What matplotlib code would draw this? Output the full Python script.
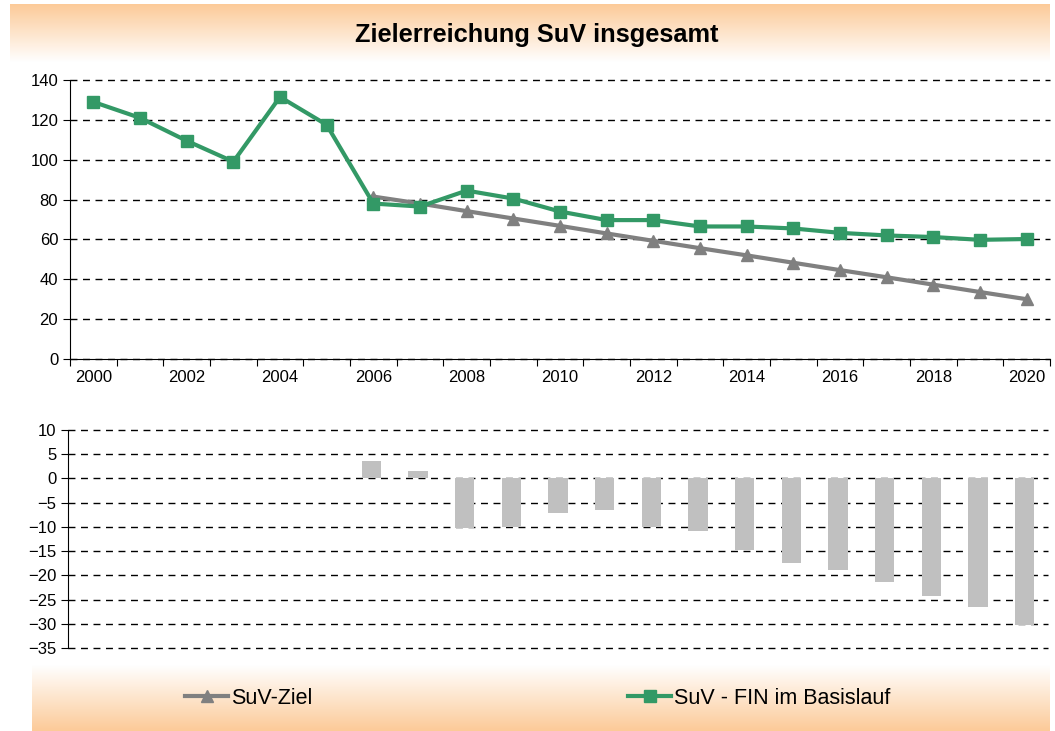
import numpy as np
import matplotlib
matplotlib.use("Agg")
import matplotlib.pyplot as plt
from matplotlib.colors import LinearSegmentedColormap

plt.rcParams['font.family'] = ['Liberation Sans', 'DejaVu Sans']

years = list(range(2000, 2021))
fin = [129, 121, 109.5, 99, 131.5, 117.5, 78, 76.5, 84.5, 80.5, 74, 69.7, 69.7,
       66.5, 66.5, 65.5, 63.3, 62, 61.2, 59.8, 60.2]
ziel_years = list(range(2006, 2021))
ziel = [81.5, 78, 74.2, 70.5, 66.8, 63, 59.3, 55.6, 52, 48.3, 44.6, 41, 37.3, 33.6, 30]
diff = [3.6, 1.6, -10.3, -10.1, -7.2, -6.6, -10.1, -10.9, -14.7, -17.4, -18.8,
        -21.3, -24.2, -26.5, -30.2]

green = '#339966'
grey = '#808080'
orange = '#fcca98'

fig = plt.figure(figsize=(10.55, 7.31), dpi=100)

# gradient bands for title and legend
cmap = LinearSegmentedColormap.from_list('band', [orange, '#ffffff'])
grad = np.linspace(0, 1, 256).reshape(-1, 1)
bg1 = fig.add_axes([10 / 1055, 1 - 62 / 731, 1040 / 1055, 58 / 731], zorder=0)
bg1.imshow(grad, aspect='auto', cmap=cmap, extent=[0, 1, 0, 1], origin='upper')
bg1.axis('off')
bg2 = fig.add_axes([32 / 1055, 0, 1018 / 1055, 66 / 731], zorder=0)
bg2.imshow(grad, aspect='auto', cmap=cmap, extent=[0, 1, 0, 1], origin='lower')
bg2.axis('off')

fig.text(537 / 1055, 1 - 35 / 731, 'Zielerreichung SuV insgesamt', ha='center', va='center',
         fontsize=18.3, fontweight='bold')

x_all = np.arange(len(years))
x_z = np.array([years.index(y) for y in ziel_years])

# top chart
ax1 = fig.add_axes([70 / 1055, 1 - 359 / 731, 980 / 1055, 279 / 731], zorder=1)
ax1.plot(x_z, ziel, color=grey, lw=3, marker='^', ms=9, zorder=3)
ax1.plot(x_all, fin, color=green, lw=3, marker='s', ms=9, zorder=4)
ax1.set_xlim(-0.5, len(years) - 0.5)
ax1.set_ylim(0, 140)
ax1.set_yticks(range(0, 141, 20))
ax1.set_xticks(np.arange(-0.5, len(years), 1))
ax1.set_xticklabels([])
ax1.set_xticks(x_all[::2], minor=True)
ax1.set_xticklabels([str(y) for y in years[::2]], minor=True)
ax1.tick_params(axis='x', which='minor', length=0, pad=8, labelsize=12)
ax1.tick_params(axis='x', which='major', length=5, direction='out')
ax1.tick_params(axis='y', length=5, labelsize=12)
ax1.grid(axis='y', color='black', ls=(0, (5, 4)), lw=1)
ax1.set_axisbelow(True)
for s in ['top', 'right']:
    ax1.spines[s].set_visible(False)
ax1.patch.set_alpha(0)

# bottom chart
ax2 = fig.add_axes([68 / 1055, 1 - 648 / 731, 980 / 1055, 218 / 731], zorder=1)
ax2.bar(x_z, diff, width=0.42, color='#c0c0c0', zorder=3)
ax2.set_xlim(-0.5, len(years) - 0.5)
ax2.set_ylim(-35, 10)
ax2.set_yticks(range(-35, 11, 5))
ax2.set_xticks([])
ax2.tick_params(axis='y', length=5, labelsize=12)
ax2.grid(axis='y', color='black', ls=(0, (5, 4)), lw=1)
ax2.set_axisbelow(True)
for s in ['top', 'right', 'bottom']:
    ax2.spines[s].set_visible(False)
ax2.patch.set_alpha(0)

for ax in (ax1, ax2):
    for gl in ax.get_ygridlines():
        gl.set_clip_on(False)

h1 = plt.Line2D([], [], color=grey, lw=3, marker='^', ms=8)
h2 = plt.Line2D([], [], color=green, lw=3, marker='s', ms=8)
leg_y = 1 - 698 / 731
for h, lab, x0 in [(h1, 'SuV-Ziel', 185), (h2, 'SuV - FIN im Basislauf', 628)]:
    fig.legend([h], [lab], loc='center left', bbox_to_anchor=(x0 / 1055, leg_y),
               frameon=False, fontsize=15.5, borderpad=0, borderaxespad=0,
               handlelength=2.0, handletextpad=0.15)

fig.savefig('out.png', dpi=100)
